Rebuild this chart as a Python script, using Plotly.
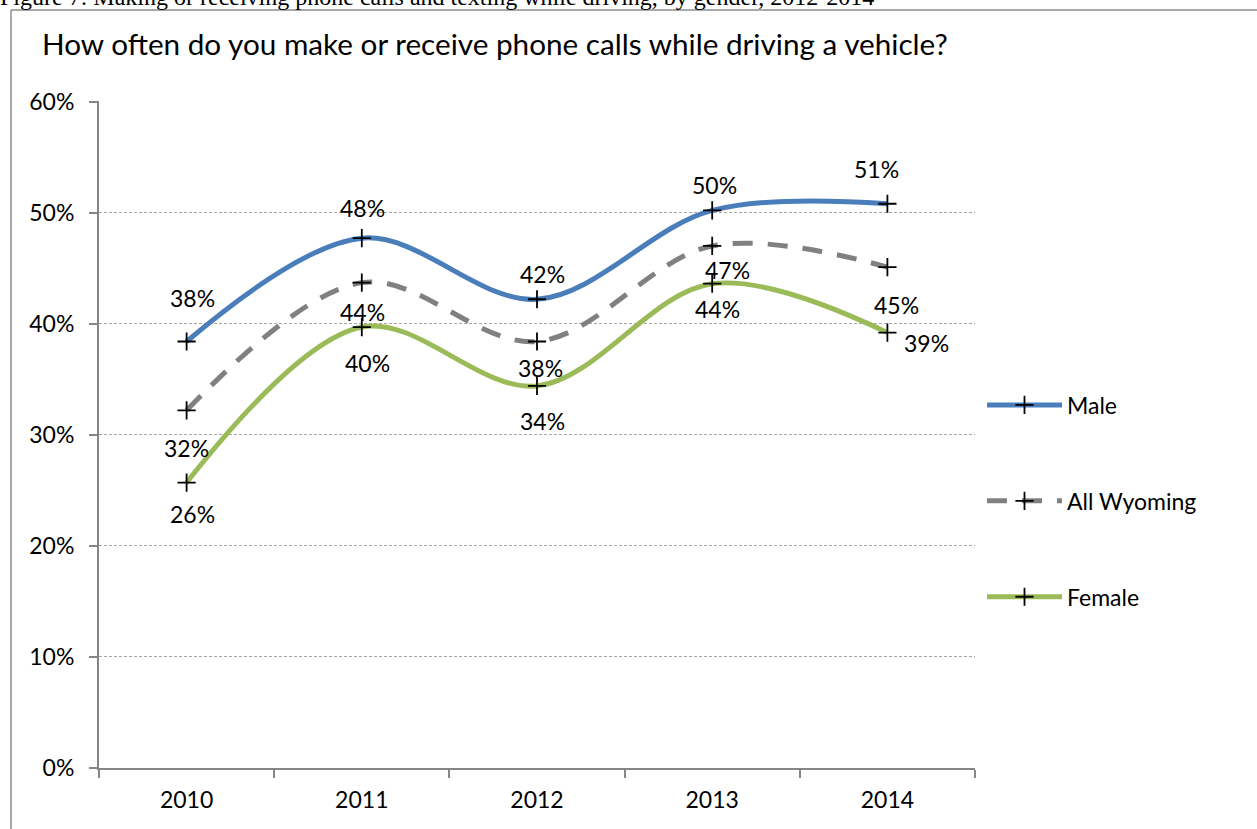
import plotly.graph_objects as go

# Survey years and share of drivers who make or receive calls while driving
years = ["2010", "2011", "2012", "2013", "2014"]
male = [0.384, 0.477, 0.422, 0.502, 0.508]
all_wyoming = [0.322, 0.437, 0.384, 0.470, 0.451]
female = [0.257, 0.397, 0.344, 0.436, 0.392]

y_ticks = [0, 0.1, 0.2, 0.3, 0.4, 0.5, 0.6]

# Pixel offsets (dx, dy) of each data label centre from its point
male_label_off = [(6, -43), (1, -30), (5, -25), (2, -25), (-11, -35)]
all_label_off = [(0, 38), (1, 29), (3, 27), (15, 24), (9, 38)]
female_label_off = [(6, 31), (6, 36), (5, 35), (5, 25), (39, 10)]

FONT = "Lato"
W, H = 1257, 829
ML, MR, MT, MB = 99, 282, 101, 61
PW, PH = W - ML - MR, H - MT - MB


def px_x(p):
    return (p - ML) / PW


def px_y(p):
    return (H - MB - p) / PH


series = [
    ("Male", male, dict(color="#4a7ebb", width=5), male_label_off),
    ("All Wyoming", all_wyoming, dict(color="#808080", width=5, dash="20px,15px"), all_label_off),
    ("Female", female, dict(color="#9bbb59", width=5), female_label_off),
]

fig = go.Figure()
annotations = []
for name, vals, line, offs in series:
    fig.add_trace(go.Scatter(
        x=years, y=vals, name=name, mode="lines+markers",
        line=dict(shape="spline", smoothing=1.0, **line),
        marker=dict(symbol="cross-thin", size=13, color="black",
                    line=dict(color="black", width=1.8)),
        legendgroup=name,
        hoverinfo="skip",
    ))
    for idx, (v, (dx, dy)) in enumerate(zip(vals, offs)):
        annotations.append(dict(
            x=idx, y=v, xref="x", yref="y",
            text=f"{round(v * 100)}&#37;",
            showarrow=False, xshift=dx, yshift=-dy,
            font=dict(family=FONT, size=23, color="black"),
        ))

# Chart heading and document caption
annotations.append(dict(
    x=px_x(40), y=px_y(43), xref="paper", yref="paper",
    xanchor="left", yanchor="middle", showarrow=False,
    text="How often do you make or receive phone calls while driving a vehicle?",
    font=dict(family=FONT, size=29.7, color="black"),
))
annotations.append(dict(
    x=px_x(-2), y=px_y(12), xref="paper", yref="paper",
    xanchor="left", yanchor="bottom", showarrow=False,
    text="Figure 7: Making or receiving phone calls and texting while driving, by gender, 2012-2014",
    font=dict(family="Liberation Serif", size=24, color="black"),
))

# Chart-area frame (left and top edges)
shapes = [
    dict(type="line", xref="paper", yref="paper", x0=px_x(11), x1=px_x(11),
         y0=px_y(10), y1=px_y(H + 5), line=dict(color="#8c8c8c", width=1.5)),
    dict(type="line", xref="paper", yref="paper", x0=px_x(11), x1=px_x(W + 5),
         y0=px_y(10), y1=px_y(10), line=dict(color="#8c8c8c", width=1.5)),
]

fig.update_layout(
    width=W, height=H,
    margin=dict(l=ML, r=MR, t=MT, b=MB),
    paper_bgcolor="white", plot_bgcolor="white",
    font=dict(family=FONT, size=23, color="black"),
    annotations=annotations,
    shapes=shapes,
    showlegend=True,
    legend=dict(
        x=px_x(982), y=px_y(501), xanchor="left", yanchor="middle",
        traceorder="grouped", tracegroupgap=63, itemwidth=75,
        font=dict(family=FONT, size=23, color="black"),
        bgcolor="rgba(0,0,0,0)",
    ),
    xaxis=dict(
        type="category", categoryorder="array", categoryarray=years,
        range=[-0.5, 4.5], showgrid=False, zeroline=False,
        showline=True, linecolor="#868686", linewidth=2,
        ticks="outside", tickson="boundaries", ticklen=8, tickwidth=2,
        tickcolor="#868686",
        tickfont=dict(family=FONT, size=23, color="black"),
        ticklabelstandoff=10,
        fixedrange=True,
    ),
    yaxis=dict(
        range=[0, 0.6005], tickvals=y_ticks, tickformat=".0%",
        showgrid=True, gridcolor="#a6a6a6", gridwidth=1, griddash="3px,2px",
        zeroline=False, showline=True, linecolor="#868686", linewidth=2,
        ticks="outside", ticklen=8, tickwidth=2, tickcolor="#868686",
        tickfont=dict(family=FONT, size=23, color="black"),
        ticklabelstandoff=10,
        fixedrange=True,
    ),
)

fig.write_html("out.html")
